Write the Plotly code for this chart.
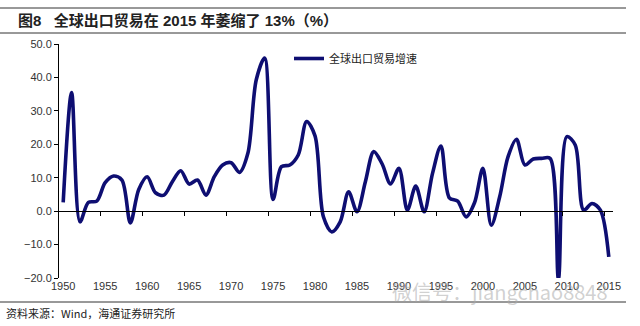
import plotly.graph_objects as go

years = list(range(1950, 2016))
growth = [
    2.6, 35.5, -3.2, 2.6, 3.0, 8.5, 10.5, 9.3, -3.5, 6.5,   # 1950-1959
    10.3, 5.5, 4.8, 8.8, 12.1, 8.1, 9.3, 4.8, 10.3, 13.8,   # 1960-1969
    14.5, 11.6, 17.3, 39.3, 45.8, 3.5, 13.3, 13.8, 16.8, 26.8,  # 1970-1979
    22.5, -1.7, -6.2, -3.2, 5.8, -0.2, 8.8, 17.8, 14.1, 8.1,  # 1980-1989
    12.8, 0.3, 7.5, -0.2, 11.3, 19.5, 4.0, 3.0, -1.7, 2.5,  # 1990-1999
    12.8, -4.2, 4.3, 16.3, 21.5, 13.8, 15.6, 15.8, 15.8, -20.2,  # 2000-2009
    22.3, 19.8, 0.3, 2.3, 0.3, -13.7,  # 2010-2015
]
tick_years = list(range(1950, 2016, 5))
tick_labels = [str(y) for y in tick_years]
y_ticks = [-20, -10, 0, 10, 20, 30, 40, 50]

title_text = "<b>图8   全球出口贸易在 2015 年萎缩了 13%（%）</b>"
legend_name = "全球出口贸易增速"
source_text = "资料来源：Wind，海通证券研究所"
watermark = "微信号：jiangchao8848"

W, H = 640, 326
ML, MR, MT, MB = 59, 27, 44, 48
pw = W - ML - MR
ph = H - MT - MB

def px_x(p):
    return (p - ML) / pw

def px_y(p):
    return (H - MB - p) / ph

navy = "#0e0e72"
fam = "Liberation Sans, Arial, Noto Sans CJK SC"

fig = go.Figure()
fig.add_trace(go.Scatter(
    x=years, y=growth, mode="lines", name=legend_name,
    line=dict(color=navy, width=3.6, shape="spline", smoothing=0.9),
    hoverinfo="skip",
))
# invisible helper trace for the zero-line tick axis
fig.add_trace(go.Scatter(
    x=years, y=growth, mode="lines", xaxis="x2", showlegend=False,
    line=dict(color="rgba(0,0,0,0)", width=0), hoverinfo="skip",
))

xr = [1949.5, 2015.5]
yr = [-20, 50]
fig.update_layout(
    width=W, height=H,
    margin=dict(l=ML, r=MR, t=MT, b=MB),
    paper_bgcolor="white", plot_bgcolor="white",
    font=dict(family=fam, size=11, color="#333333"),
    showlegend=True,
    legend=dict(x=px_x(289), y=px_y(44), xanchor="left", yanchor="top",
                bgcolor="rgba(0,0,0,0)", borderwidth=0,
                font=dict(family="Noto Sans CJK SC", size=11, color="#222222")),
    xaxis=dict(range=xr, tickvals=tick_years, ticktext=tick_labels,
               ticks="", showline=False, showgrid=False, zeroline=False,
               tickfont=dict(size=11, color="#333333")),
    xaxis2=dict(range=xr, overlaying="x", anchor="free",
                position=(0 - yr[0]) / (yr[1] - yr[0]), side="bottom",
                tickvals=[y + 4.5 for y in tick_years[:-1]] + [2014.5],
                showticklabels=False, ticks="outside", ticklen=4,
                tickcolor="black", showline=True, linecolor="black",
                linewidth=1, showgrid=False, zeroline=False),
    yaxis=dict(range=yr, tickvals=y_ticks, tickformat=".1f",
               ticks="outside", ticklen=4, tickcolor="black",
               showline=True, linecolor="black", linewidth=1,
               showgrid=False, zeroline=False,
               tickfont=dict(size=11, color="#333333")),
)

# title and header/footer rules
fig.add_annotation(text=title_text, xref="paper", yref="paper",
                   x=px_x(16), y=px_y(21), xanchor="left", yanchor="middle",
                   showarrow=False,
                   font=dict(family="Liberation Sans, Noto Sans CJK SC", size=15, color="#222222"))
for yy in (8, 33, 302):
    fig.add_shape(type="line", xref="paper", yref="paper",
                  x0=px_x(0), x1=px_x(626), y0=px_y(yy), y1=px_y(yy),
                  line=dict(color="#333333", width=1))
fig.add_annotation(text=source_text, xref="paper", yref="paper",
                   x=px_x(4), y=px_y(313), xanchor="left", yanchor="middle",
                   showarrow=False,
                   font=dict(family="Noto Sans CJK SC", size=11, color="#222222"))
fig.add_annotation(text=watermark, xref="paper", yref="paper",
                   x=px_x(500), y=px_y(291), xanchor="center", yanchor="middle",
                   showarrow=False,
                   font=dict(family="Noto Sans CJK SC", size=20, color="rgba(170,170,170,0.55)"))

fig.write_html("out.html")
